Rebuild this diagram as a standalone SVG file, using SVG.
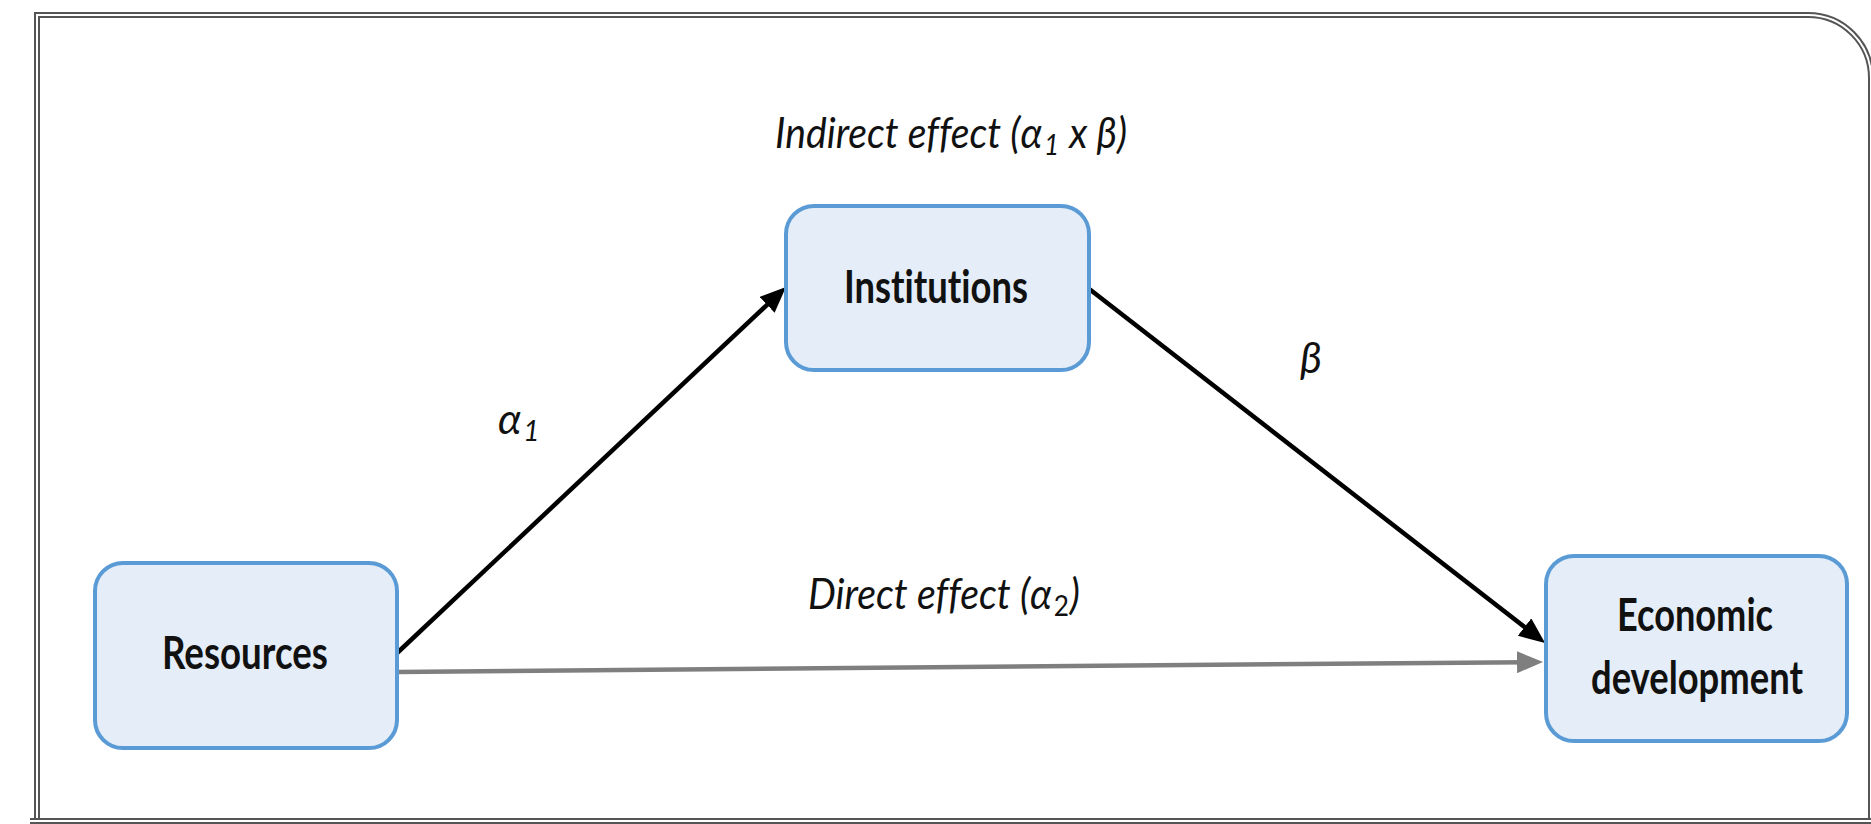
<svg xmlns="http://www.w3.org/2000/svg" width="1871" height="824" viewBox="0 0 1871 824">
  <style>
    .node rect { fill: #E5EEF8; stroke: #5B9BD5; stroke-width: 4; }
    .lbl { font-family: Lato, "Open Sans", "Liberation Sans", sans-serif; font-weight: bold; font-size: 45px; fill: #111; text-anchor: middle; font-variant-ligatures: none; }
    .it { font-family: Lato, "Open Sans", "Liberation Sans", sans-serif; font-style: italic; font-size: 42px; fill: #111; font-variant-ligatures: none; }
    .conn { fill: none; stroke-width: 4.5; }
  </style>
  <defs>
    <marker id="ahBlack" viewBox="0 0 26 22" refX="12" refY="11" markerWidth="26" markerHeight="22" markerUnits="userSpaceOnUse" orient="auto">
      <path d="M0,0 L26,11 L0,22 z" fill="#000"/>
    </marker>
    <marker id="ahGrey" viewBox="0 0 26 22" refX="12" refY="11" markerWidth="26" markerHeight="22" markerUnits="userSpaceOnUse" orient="auto">
      <path d="M0,0 L26,11 L0,22 z" fill="#7F7F7F"/>
    </marker>
  </defs>
  <rect x="0" y="0" width="1871" height="824" fill="#fff"/>
  <g id="frame">
    <path d="M37,840 L37,15 L1808,15 A63,63 0 0 1 1871,78 L1871,840" fill="none" stroke="#555" stroke-width="6"/>
    <path d="M37,840 L37,15 L1808,15 A63,63 0 0 1 1871,78 L1871,840" fill="none" stroke="#fff" stroke-width="2"/>
    <path d="M30,821 L1871,821" fill="none" stroke="#555" stroke-width="6"/>
    <path d="M30,821 L1871,821" fill="none" stroke="#fff" stroke-width="2"/>
  </g>
  <g id="connectors">
    <line class="conn" x1="397" y1="672" x2="1529" y2="662.1" stroke="#7F7F7F" marker-end="url(#ahGrey)"/>
    <line class="conn" x1="395" y1="655" x2="775.8" y2="296.6" stroke="#000" marker-end="url(#ahBlack)"/>
    <line class="conn" x1="1088" y1="288" x2="1534" y2="634.4" stroke="#000" marker-end="url(#ahBlack)"/>
  </g>
  <g id="node-institutions" class="node">
    <rect x="786" y="206" width="303" height="164" rx="28" ry="28"/>
    <text class="lbl" x="936" y="303" textLength="184" lengthAdjust="spacingAndGlyphs">Institutions</text>
  </g>
  <g id="node-resources" class="node">
    <rect x="95" y="563" width="302" height="185" rx="28" ry="28"/>
    <text class="lbl" x="245" y="669" textLength="166" lengthAdjust="spacingAndGlyphs">Resources</text>
  </g>
  <g id="node-economic" class="node">
    <rect x="1546" y="556" width="301" height="185" rx="28" ry="28"/>
    <text class="lbl" x="1695" y="631" textLength="156" lengthAdjust="spacingAndGlyphs">Economic</text>
    <text class="lbl" x="1697" y="694" textLength="212" lengthAdjust="spacingAndGlyphs">development</text>
  </g>
  <g id="labels">
    <text class="it" x="775" y="148" textLength="352" lengthAdjust="spacingAndGlyphs">Indirect effect (α<tspan font-size="28" dx="2" dy="7">1</tspan><tspan dx="1" dy="-7"> x β)</tspan></text>
    <text class="it" x="498" y="434">α<tspan font-size="28" dx="2" dy="7">1</tspan></text>
    <text class="it" x="1300" y="373" font-size="46">β</text>
    <text class="it" x="808" y="609" textLength="272" lengthAdjust="spacingAndGlyphs">Direct effect (α<tspan font-size="28" font-style="normal" dx="2" dy="7">2</tspan><tspan dx="1" dy="-7">)</tspan></text>
  </g>
</svg>
